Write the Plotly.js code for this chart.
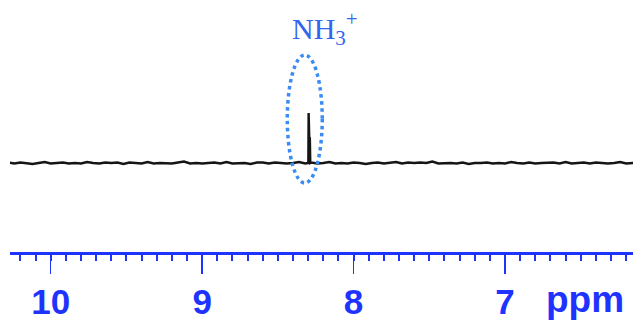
<!DOCTYPE html>
<html>
<head>
<meta charset="utf-8">
<script src="https://cdn.plot.ly/plotly-3.0.1.min.js"></script>
<style>
html,body{margin:0;padding:0;background:#fff;}
#chart{width:633px;height:325px;}
</style>
</head>
<body>
<div id="chart"></div>
<script>
// Chemical shift (ppm) and intensity of the 1H NMR trace
var ppm = [
  10.28,10.24,10.20,10.16,10.12,10.08,10.04,10.00,9.96,9.92,
  9.88,9.84,9.80,9.76,9.72,9.68,9.64,9.60,9.56,9.52,
  9.48,9.44,9.40,9.36,9.32,9.28,9.24,9.20,9.16,9.12,
  9.08,9.04,9.00,8.96,8.92,8.88,8.84,8.80,8.76,8.72,
  8.68,8.64,8.60,8.56,8.52,8.48,8.44,8.40,8.36,8.32,
  8.305,8.299,8.297,8.295,8.293,8.289,8.286,
  8.28,8.24,8.20,8.16,8.12,8.08,8.04,8.00,7.96,7.92,
  7.88,7.84,7.80,7.76,7.72,7.68,7.64,7.60,7.56,7.52,
  7.48,7.44,7.40,7.36,7.32,7.28,7.24,7.20,7.16,7.12,
  7.08,7.04,7.00,6.96,6.92,6.88,6.84,6.80,6.76,6.72,
  6.68,6.64,6.60,6.56,6.52,6.48,6.44,6.40,6.36,6.32,
  6.28,6.24,6.20,6.16,6.12
];
var intensity = [
  0.01,-0.01,0.01,0.00,-0.02,0.00,0.02,-0.01,0.00,0.01,
  -0.01,0.00,-0.01,0.02,0.00,-0.01,0.01,0.00,0.01,-0.02,
  0.01,0.00,-0.01,0.02,-0.01,0.00,0.00,-0.01,0.01,0.03,
  -0.01,0.00,-0.01,0.00,0.01,-0.01,0.02,-0.01,0.00,0.00,
  -0.02,0.01,0.01,-0.01,0.01,0.00,-0.01,0.00,0.02,-0.01,
  0.00,0.00,1.00,0.52,0.52,0.50,0.00,
  0.01,-0.01,0.00,0.02,-0.01,0.00,-0.01,0.01,0.00,-0.02,
  0.00,0.01,-0.01,0.00,0.02,-0.01,0.01,0.00,0.01,0.00,
  0.03,-0.01,0.00,0.00,-0.01,0.01,-0.02,0.00,0.00,0.01,
  -0.01,0.00,-0.01,0.02,0.00,-0.01,0.01,-0.01,0.00,0.00,
  0.01,-0.01,0.02,-0.01,0.00,0.01,-0.01,0.01,0.00,-0.01,
  0.00,0.02,-0.01,0.00,0.01
];
var tickValues = [10, 9, 8, 7];
var tickLabels = ['10', '9', '8', '7'];
var peakLabel = 'NH<sub>3</sub><sup>+</sup>';
var unitLabel = 'ppm';

var axisBlue = '#1f33ff';

var trace = {
  x: ppm, y: intensity, type: 'scatter', mode: 'lines',
  line: {color: '#151515', width: 2.4},
  hoverinfo: 'skip'
};

var layout = {
  width: 633, height: 325,
  margin: {l: 10, r: 0, t: 0, b: 73},
  paper_bgcolor: '#ffffff', plot_bgcolor: '#ffffff',
  showlegend: false,
  xaxis: {
    range: [10.269, 6.155],
    showgrid: false, zeroline: false,
    showline: true, linecolor: axisBlue, linewidth: 2.5,
    ticks: 'outside', ticklen: 19, tickwidth: 1.5, tickcolor: axisBlue,
    tickmode: 'array', tickvals: tickValues, ticktext: tickLabels,
    tickfont: {family: 'Liberation Sans, Arial, sans-serif', size: 35, color: axisBlue, weight: 'bold'},
    ticklabelstandoff: -2,
    minor: {tickmode: 'linear', tick0: 0, dtick: 0.1, ticks: 'outside', ticklen: 6, tickwidth: 2, tickcolor: axisBlue, showgrid: false}
  },
  yaxis: {
    range: [-1.78, 3.26], visible: false, showgrid: false, zeroline: false, fixedrange: true
  },
  shapes: [{
    type: 'circle', xref: 'x', yref: 'y',
    x0: 8.438, x1: 8.207, y0: -0.40, y1: 2.16,
    line: {color: '#3a8cf2', width: 3.5, dash: '3.5px,3.5px'}
  }],
  annotations: [
    {
      text: peakLabel, xref: 'x', yref: 'paper', x: 8.192, y: 0.885,
      xanchor: 'center', yanchor: 'middle', showarrow: false,
      font: {family: 'Liberation Serif, Times New Roman, serif', size: 30, color: '#3366ee'}
    },
    {
      text: unitLabel, xref: 'x', yref: 'paper', x: 6.474, y: -0.19,
      xanchor: 'center', yanchor: 'middle', showarrow: false,
      font: {family: 'Liberation Sans, Arial, sans-serif', size: 37, color: axisBlue, weight: 'bold'}
    }
  ]
};

Plotly.newPlot('chart', [trace], layout, {staticPlot: true, displayModeBar: false});
</script>
</body>
</html>
